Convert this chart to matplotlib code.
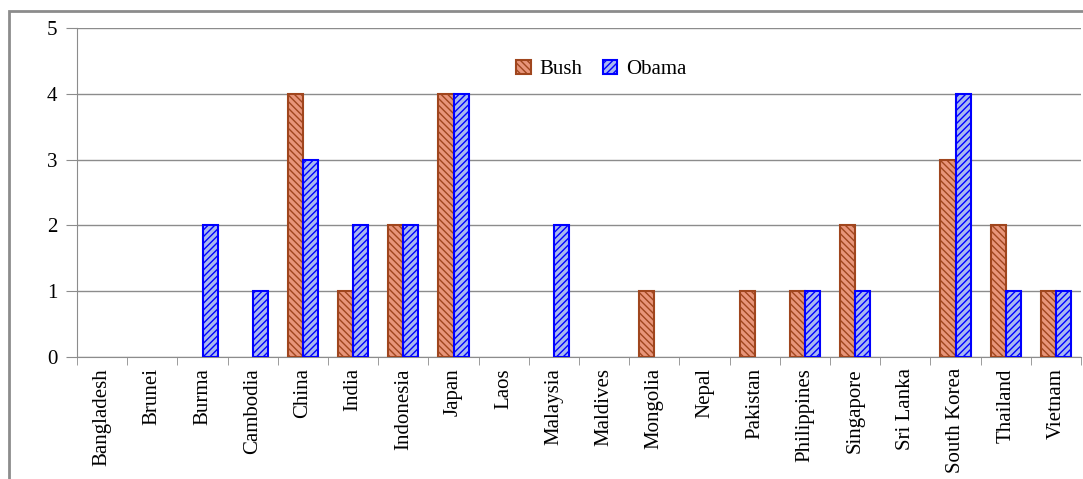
import matplotlib
matplotlib.use("Agg")
import matplotlib.pyplot as plt
import numpy as np
from matplotlib.patches import Rectangle

plt.rcParams["font.family"] = ["Liberation Serif", "DejaVu Serif"]
plt.rcParams["hatch.linewidth"] = 1.0

countries = ["Bangladesh", "Brunei", "Burma", "Cambodia", "China", "India", "Indonesia",
             "Japan", "Laos", "Malaysia", "Maldives", "Mongolia", "Nepal", "Pakistan",
             "Philippines", "Singapore", "Sri Lanka", "South Korea", "Thailand", "Vietnam"]
bush = [0, 0, 0, 0, 4, 1, 2, 4, 0, 0, 0, 1, 0, 1, 1, 2, 0, 3, 2, 1]
obama = [0, 0, 2, 1, 3, 2, 2, 4, 0, 2, 0, 0, 0, 0, 1, 1, 0, 4, 1, 1]

BUSH_EDGE = "#A0461E"
BUSH_FILL = "#E8957A"
OBAMA_EDGE = "#0000FF"
OBAMA_FILL = "#A8B8F0"

fig = plt.figure(figsize=(10.83, 4.79), dpi=100)
fig.patches.append(Rectangle((9 / 1083, -0.1), 1.2, 1 - 11 / 479 + 0.1,
                             transform=fig.transFigure, fill=False,
                             edgecolor="#8c8c8c", linewidth=2))
ax = fig.add_axes([77 / 1083, 1 - 357 / 479, 1004 / 1083, 329 / 479])

x = np.arange(len(countries))
w = 0.3
b = np.array(bush, float)
o = np.array(obama, float)
# skip zero-height bars so no stray edge lines sit on the baseline
mb = b > 0
mo = o > 0
ax.bar(x[mb] - w / 2, b[mb], w, facecolor=BUSH_FILL, edgecolor=BUSH_EDGE,
       hatch="\\\\\\\\\\", linewidth=1.5, label="Bush", zorder=3)
ax.bar(x[mo] + w / 2, o[mo], w, facecolor=OBAMA_FILL, edgecolor=OBAMA_EDGE,
       hatch="/////", linewidth=1.5, label="Obama", zorder=3)

ax.set_xlim(-0.5, len(countries) - 0.5)
ax.set_ylim(0, 5)
ax.set_yticks(range(6))
ax.yaxis.grid(True, color="#8c8c8c", linewidth=1)
ax.set_axisbelow(True)
ax.set_xticks(x)
ax.set_xticklabels(countries, rotation=90, fontsize=15)
ax.set_xticks(np.arange(-0.5, len(countries), 1), minor=True)
ax.tick_params(axis="x", which="major", length=0, pad=8)
ax.tick_params(axis="x", which="minor", length=6, color="#8c8c8c")
ax.tick_params(axis="y", length=8, color="#8c8c8c", labelsize=15, pad=6)
for s in ("top", "right"):
    ax.spines[s].set_visible(False)
for s in ("left", "bottom"):
    ax.spines[s].set_color("#8c8c8c")

ax.legend(loc="upper center", bbox_to_anchor=(0.522, 0.96), ncol=2, frameon=False,
          fontsize=15, handlelength=0.7, handleheight=0.7, columnspacing=1.0,
          handletextpad=0.4)

fig.savefig("out.png", dpi=100)
